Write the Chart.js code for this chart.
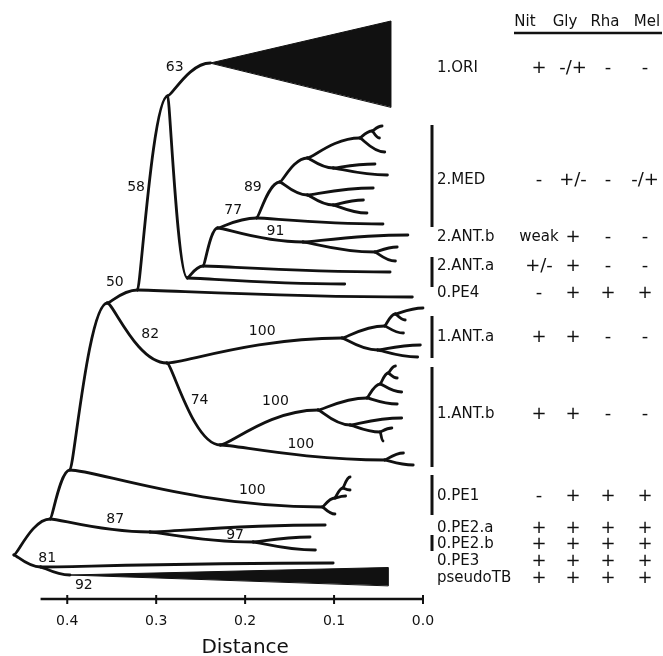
<!DOCTYPE html>
<html>
<head>
<meta charset="utf-8">
<script src="https://cdn.jsdelivr.net/npm/chart.js@4.4.1/dist/chart.umd.min.js"></script>
<style>
  html, body { margin: 0; padding: 0; background: #fff; }
  #tree { display: block; }
</style>
</head>
<body>
<canvas id="tree" width="663" height="656"></canvas>
<script>
// =========================
// DATA
// =========================
// node: [id, parent, distance, row, bootstrap]
const backbone = [
  ["root", null, 0.460, 555],
  ["n1", "root", 0.419, 519],
  ["n81", "root", 0.430, 567, 81],
  ["n2", "n1", 0.397, 470],
  ["nA", "n2", 0.355, 303],
  ["n50", "nA", 0.321, 290, 50],
  ["pe4", "n50", 0.012, 297],
  ["n58", "n50", 0.287, 96, 58],
  ["ori", "n58", 0.239, 63, 63],
  ["n82", "nA", 0.288, 363, 82],
  ["n74", "n82", 0.228, 445, 74],
  ["n87", "n1", 0.307, 532, 87],
  ["pe3", "n81", 0.101, 563],
  ["n92", "n81", 0.397, 575, 92],
];

const group2 = [
  ["nM", "n58", 0.265, 278],
  ["a2a1", "nM", 0.088, 284],
  ["nC", "nM", 0.247, 266],
  ["a2a2", "nC", 0.037, 272],
  ["nB", "nC", 0.231, 228],
  ["n77", "nB", 0.187, 218, 77],
  ["a2b1", "n77", 0.045, 224],
  ["n91", "nB", 0.135, 242, 91],
  ["a2b2", "n91", 0.017, 235],
  ["n91b", "n91", 0.054, 252],
  ["a2b3", "n91b", 0.029, 247],
  ["a2b4", "n91b", 0.031, 261],
  ["n89", "n77", 0.161, 182, 89],
  ["mX", "n89", 0.130, 158],
  ["mZ", "mX", 0.071, 138],
  ["mW", "mZ", 0.057, 131],
  ["m1", "mW", 0.046, 126],
  ["m2", "mW", 0.049, 138],
  ["m3", "mZ", 0.043, 152],
  ["mV", "mX", 0.101, 168],
  ["m4", "mV", 0.054, 164],
  ["m5", "mV", 0.040, 175],
  ["mY", "n89", 0.130, 195],
  ["m6", "mY", 0.056, 188],
  ["mU", "mY", 0.101, 205],
  ["m7", "mU", 0.067, 200],
  ["m8", "mU", 0.063, 213],
];

const group1 = [
  ["aP", "n82", 0.091, 338, 100],
  ["aQ", "aP", 0.043, 326],
  ["aQ2", "aQ", 0.031, 314],
  ["a1", "aQ2", 0.000, 308],
  ["a2", "aQ2", 0.020, 320],
  ["a3", "aQ", 0.022, 333],
  ["aR", "aP", 0.051, 350],
  ["a4", "aR", 0.003, 345],
  ["a5", "aR", 0.006, 357],
  ["bS", "n74", 0.118, 410, 100],
  ["bT", "bS", 0.063, 398],
  ["bT2", "bT", 0.048, 384],
  ["bT3", "bT2", 0.039, 373],
  ["b1", "bT3", 0.031, 366],
  ["b2", "bT3", 0.029, 378],
  ["b3", "bT2", 0.024, 392],
  ["b4", "bT", 0.029, 404],
  ["bU", "bS", 0.082, 425],
  ["b5", "bU", 0.024, 418],
  ["bU2", "bU", 0.048, 432],
  ["b6", "bU2", 0.035, 428],
  ["b7", "bU2", 0.045, 441],
  ["bL", "n74", 0.043, 460, 100],
  ["b8", "bL", 0.022, 453],
  ["b9", "bL", 0.011, 465],
];

const group0 = [
  ["pF", "n2", 0.113, 507, 100],
  ["p1", "pF", 0.099, 514],
  ["pF2", "pF", 0.099, 498],
  ["pF3", "pF2", 0.090, 488],
  ["p2", "pF3", 0.082, 477],
  ["p3", "pF3", 0.082, 490],
  ["p4", "pF2", 0.087, 496],
  ["pe2a", "n87", 0.110, 525],
  ["n97", "n87", 0.191, 542, 97],
  ["p5", "n97", 0.127, 537],
  ["p6", "n97", 0.121, 550],
];

// collapsed clades: [tip node, end distance, top row, bottom row]
const wedges = [
  ["ori", 0.036, 21, 107],
  ["n92", 0.039, 567.5, 585.5],
];

const distTicks = [0.4, 0.3, 0.2, 0.1, 0.0];
const axisStart = 0.43;

const groupNames = ["1.ORI", "2.MED", "2.ANT.b", "2.ANT.a", "0.PE4", "1.ANT.a",
  "1.ANT.b", "0.PE1", "0.PE2.a", "0.PE2.b", "0.PE3", "pseudoTB"];
const groupRows = [68, 180, 237, 266, 293, 337, 414, 496, 528, 544, 561, 578];
const groupSpans = [null, [125, 227], null, [257, 287], null, [316, 358],
  [367, 467], [475, 515], null, [535, 551], null, null];

const traitNames = ["Nit", "Gly", "Rha", "Mel"];
const traitTable = [
  ["+", "-/+", "-", "-"],
  ["-", "+/-", "-", "-/+"],
  ["weak", "+", "-", "-"],
  ["+/-", "+", "-", "-"],
  ["-", "+", "+", "+"],
  ["+", "+", "-", "-"],
  ["+", "+", "-", "-"],
  ["-", "+", "+", "+"],
  ["+", "+", "+", "+"],
  ["+", "+", "+", "+"],
  ["+", "+", "+", "+"],
  ["+", "+", "+", "+"],
];

// =========================
// STYLE
// =========================
const INK = "#111";
const FONT = '"DejaVu Sans", "Liberation Sans", sans-serif';
const lineW = 2.8;
const labelX = 437;
const bracketX = 432;
const headX = [525, 565, 605, 647];
const colX = [539, 573, 608, 645];
// pixel nudges of bootstrap labels from the middle of their branch
const supportNudge = {
  ori: [-8, -12], n58: [-12, -6], n50: [-3, -14], n82: [22, 1], n74: [14, -4],
  n77: [2, -13], n89: [-12, -13], n91: [28, -4], aP: [34, -19], bS: [21, -26],
  bL: [23, -8], pF: [94, 2], n87: [30, -6], n97: [49, -2], n81: [24, -3], n92: [33, 14],
};

// =========================
// DATASETS
// =========================
const nodes = [...backbone, ...group2, ...group1, ...group0];
const byId = {};
nodes.forEach((n) => (byId[n[0]] = n));

const datasets = [];
nodes.forEach((n) => {
  const p = byId[n[1]];
  if (!p) return;
  datasets.push({
    kind: "edge",
    node: n[0],
    support: n[4],
    data: [{ x: p[2], y: p[3] }, { x: n[2], y: n[3] }],
  });
});
wedges.forEach((w) => {
  const tip = byId[w[0]];
  datasets.push({
    kind: "wedge",
    data: [{ x: tip[2], y: tip[3] }, { x: w[1], y: w[2] }, { x: w[1], y: w[3] }],
  });
});

// control points of a branch: leaves the parent flat, bends early, arrives flat
function ctrl(a, b) {
  const dx = b.x - a.x;
  return [a.x + 0.1 * dx, a.y, a.x + 0.5 * dx, b.y];
}

const treePlugin = {
  id: "tree",
  beforeDatasetDraw(chart, args) {
    const ds = chart.data.datasets[args.index];
    const pts = args.meta.data;
    const ctx = chart.ctx;
    ctx.save();
    ctx.strokeStyle = INK;
    ctx.fillStyle = INK;
    ctx.lineWidth = lineW;
    ctx.lineCap = "round";
    ctx.lineJoin = "round";
    ctx.beginPath();
    if (ds.kind === "edge") {
      const [a, b] = pts;
      const c = ctrl(a, b);
      ctx.moveTo(a.x, a.y);
      ctx.bezierCurveTo(c[0], c[1], c[2], c[3], b.x, b.y);
      ctx.stroke();
    } else {
      ctx.moveTo(pts[0].x, pts[0].y);
      for (let i = 1; i < pts.length; i++) ctx.lineTo(pts[i].x, pts[i].y);
      ctx.closePath();
      ctx.fill();
      ctx.lineWidth = 1;
      ctx.stroke();
    }
    ctx.restore();
    return false;
  },
  afterDraw(chart) {
    const ctx = chart.ctx;
    const xs = chart.scales.x;
    const ys = chart.scales.y;
    ctx.save();
    ctx.fillStyle = INK;
    ctx.strokeStyle = INK;

    // bootstrap values
    ctx.font = "14px " + FONT;
    ctx.textAlign = "center";
    ctx.textBaseline = "middle";
    chart.data.datasets.forEach((ds, i) => {
      if (ds.kind !== "edge" || !ds.support) return;
      const [a, b] = chart.getDatasetMeta(i).data;
      const c = ctrl(a, b);
      const mx = (a.x + 3 * c[0] + 3 * c[2] + b.x) / 8;
      const my = (a.y + b.y) / 2;
      const nd = supportNudge[ds.node] || [0, -10];
      ctx.fillText(String(ds.support), mx + nd[0], my + nd[1]);
    });

    // distance axis
    const yb = chart.chartArea.bottom;
    ctx.lineWidth = 2.6;
    ctx.beginPath();
    ctx.moveTo(xs.getPixelForValue(axisStart), yb);
    ctx.lineTo(xs.getPixelForValue(0), yb);
    ctx.stroke();
    ctx.lineWidth = 2;
    ctx.beginPath();
    distTicks.forEach((v) => {
      const px = xs.getPixelForValue(v);
      ctx.moveTo(px, yb - 4);
      ctx.lineTo(px, yb + 5);
    });
    ctx.stroke();
    ctx.font = "20px " + FONT;
    ctx.fillText("Distance", xs.getPixelForValue(0.2), 648);

    // trait header
    ctx.font = "15px " + FONT;
    traitNames.forEach((t, j) => ctx.fillText(t, headX[j], 22));
    ctx.lineWidth = 2.6;
    ctx.beginPath();
    ctx.moveTo(514, 33);
    ctx.lineTo(662, 33);
    ctx.stroke();

    // brackets of the groups
    ctx.lineWidth = 3;
    groupSpans.forEach((s) => {
      if (!s) return;
      ctx.beginPath();
      ctx.moveTo(bracketX, ys.getPixelForValue(s[0]));
      ctx.lineTo(bracketX, ys.getPixelForValue(s[1]));
      ctx.stroke();
    });

    // group names and trait values
    groupNames.forEach((g, i) => {
      const py = ys.getPixelForValue(groupRows[i]);
      ctx.textAlign = "left";
      ctx.font = "15px " + FONT;
      ctx.fillText(g, labelX, py);
      ctx.textAlign = "center";
      traitTable[i].forEach((v, j) => {
        ctx.font = (v === "weak" ? "15px " : "18px ") + FONT;
        ctx.fillText(v, colX[j], py);
      });
    });
    ctx.restore();
  },
};

// =========================
// CHART
// =========================
const chart = new Chart(document.getElementById("tree"), {
  type: "line",
  data: { datasets },
  plugins: [treePlugin],
  options: {
    responsive: false,
    animation: false,
    events: [],
    layout: { padding: { left: 5, right: 240, top: 0, bottom: 0 } },
    elements: { point: { radius: 0 } },
    plugins: { legend: { display: false }, tooltip: { enabled: false } },
    scales: {
      x: {
        type: "linear",
        reverse: true,
        min: 0,
        max: 0.47,
        afterBuildTicks: (s) => {
          s.ticks = distTicks.map((v) => ({ value: v }));
        },
        afterFit: (s) => {
          s.height = 57;
        },
        grid: { display: false, drawTicks: false },
        border: { display: false },
        ticks: {
          color: INK,
          padding: 14,
          maxRotation: 0,
          autoSkip: false,
          font: { family: FONT, size: 14 },
          callback: (v) => Number(v).toFixed(1),
        },
      },
      y: { type: "linear", reverse: true, min: 0, max: 599, display: false },
    },
  },
});
</script>
</body>
</html>
